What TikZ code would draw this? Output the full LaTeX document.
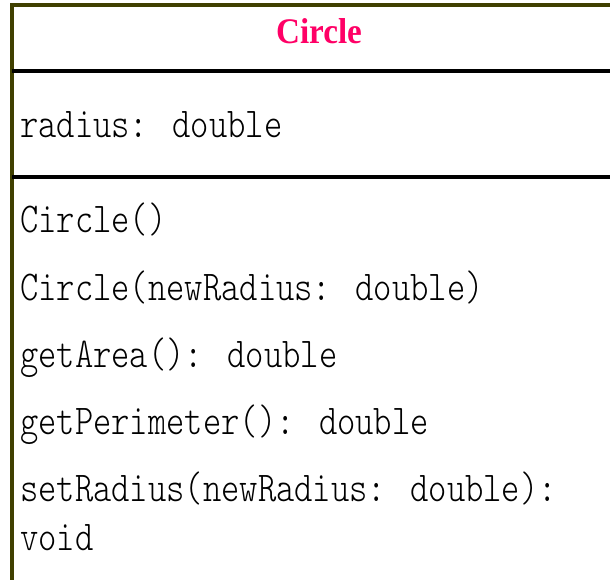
\documentclass[tikz,border=0pt]{standalone}
\usepackage{fontspec}
\setmainfont{Liberation Serif}
\newfontfamily\membfont[FakeStretch=0.82]{Latin Modern Mono Light}
\newfontfamily\titlefont[FakeStretch=0.92]{Liberation Serif}
\definecolor{frameolive}{RGB}{64,64,0}
\definecolor{titlepink}{RGB}{255,0,102}
\begin{document}
\begin{tikzpicture}[x=1pt,y=1pt,
  member/.style={anchor=base west, inner sep=0pt, font=\membfont\fontsize{42.5}{42.5}\selectfont, text=black},
  classtitle/.style={anchor=base, inner sep=0pt, font=\titlefont\bfseries\fontsize{36}{36}\selectfont, text=titlepink},
  frame/.style={draw=frameolive, line width=4pt},
  divider/.style={draw=black, line width=4pt}]
\useasboundingbox (0,0) rectangle (610,-580);
\fill[white] (0,0) rectangle (610,-580);
% class box outline (continues past the page edges)
\draw[frame] (12,-600) -- (12,-5) -- (630,-5);
% compartment dividers
\coordinate (d1a) at (12,-71);
\coordinate (d1b) at (630,-71);
\coordinate (d2a) at (12,-177);
\coordinate (d2b) at (630,-177);
\draw[divider] (d1a) -- (d1b);
\draw[divider] (d2a) -- (d2b);
% class name
\node[classtitle] (title) at (319,-44) {Circle};
% attributes
\node[member] (attr) at (20,-138) {radius: double};
% operations
\node[member] (op1) at (20,-233) {Circle()};
\node[member] (op2) at (20,-300) {Circle(newRadius: double)};
\node[member] (op3) at (20,-367) {getArea(): double};
\node[member] (op4) at (20,-434) {getPerimeter(): double};
\node[member] (op5) at (20,-501) {setRadius(newRadius: double):};
\node[member] (op5b) at (20,-550) {void};
\end{tikzpicture}
\end{document}
